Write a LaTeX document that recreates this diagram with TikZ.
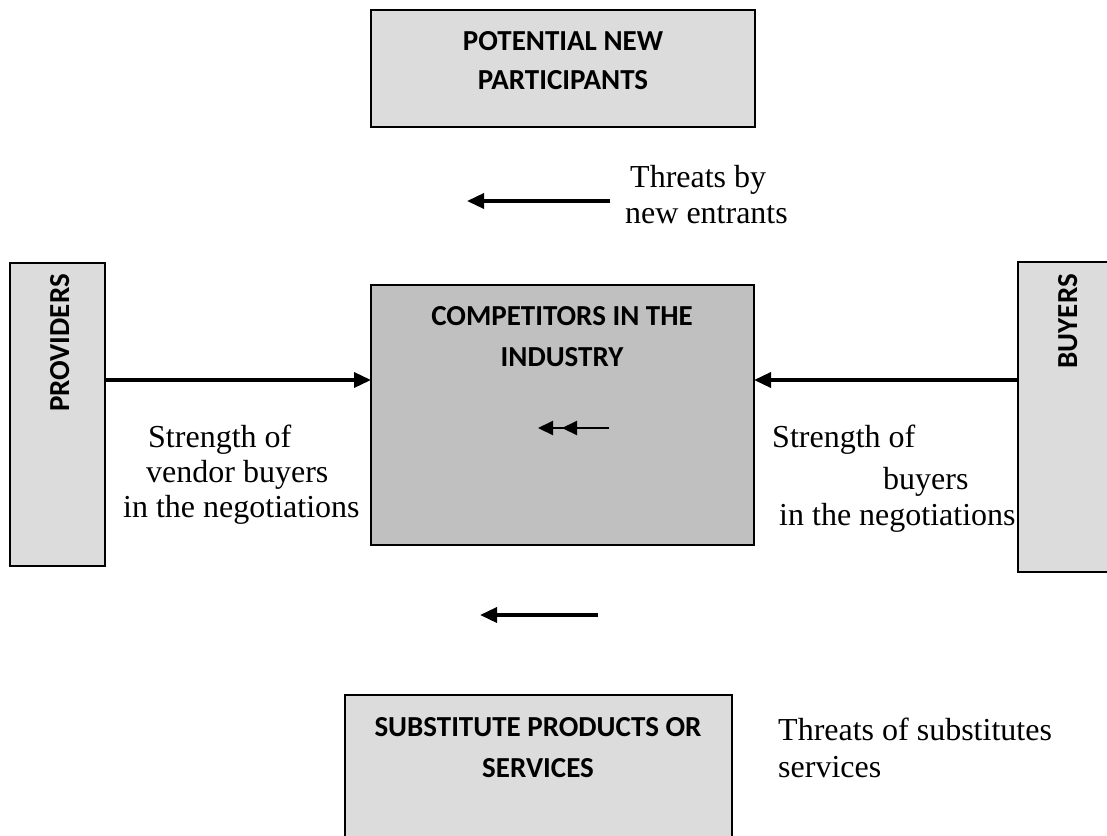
\documentclass[tikz,border=0pt]{standalone}
\usepackage{fontspec}
\setmainfont{Liberation Serif}
\newfontfamily\boxfont{Carlito}
\usetikzlibrary{arrows.meta}
\definecolor{paleshade}{HTML}{DCDCDC}
\definecolor{midshade}{HTML}{C0C0C0}

\begin{document}
\begin{tikzpicture}[x=1pt,y=-1pt,
  panel/.style={draw=black, line width=2pt, fill=paleshade, inner sep=0pt,
    outer sep=0pt, anchor=north west},
  heading/.style={font=\boxfont\bfseries\fontsize{29}{34}\selectfont,
    inner sep=0pt, anchor=base},
  caption/.style={font=\fontsize{32}{36}\selectfont, inner sep=0pt,
    anchor=base west},
  force/.style={line width=3.5pt, -{Triangle[length=17pt,width=15pt]}},
  rivalry/.style={line width=2.2pt,
    -{Triangle[length=15pt,width=14pt,sep=9pt] Triangle[length=15pt,width=14pt]}}]

\useasboundingbox (0,0) rectangle (1107,835);
\fill[white] (0,0) rectangle (1107,835);

% the five forces
\node[panel, minimum width=384pt, minimum height=117pt] (entrants) at (371,10) {};
\node[panel, minimum width=95pt, minimum height=303pt] (providers) at (10,263) {};
\node[panel, fill=midshade, minimum width=383pt, minimum height=260pt] (industry) at (371,285) {};
\node[panel, minimum width=110pt, minimum height=310pt] (buyers) at (1018,262) {};
\node[panel, minimum width=387pt, minimum height=200pt] (substitutes) at (345,695) {};

% box titles
\node[heading] (tEntA) at (563,50) {POTENTIAL NEW};
\node[heading] (tEntB) at (563,89) {PARTICIPANTS};
\node[heading] (tIndA) at (562,325) {COMPETITORS IN THE};
\node[heading] (tIndB) at (562,366) {INDUSTRY};
\node[heading] (tSubA) at (538,736) {SUBSTITUTE PRODUCTS OR};
\node[heading] (tSubB) at (538,777) {SERVICES};
\node[heading, rotate=90, anchor=base east] (tProv) at (69,274) {PROVIDERS};
\node[heading, rotate=90, anchor=base east] (tBuy) at (1077,274) {BUYERS};

% bargaining power arrows
\coordinate (level) at (0,380);
\draw[force] (providers.east |- level) -- (industry.west |- level);
\draw[force] (buyers.west |- level) -- (industry.east |- level);

% threat arrows
\coordinate (entTail) at (610,201);
\coordinate (entTip) at (467,201);
\draw[force] (entTail) -- (entTip);
\coordinate (subTail) at (598,615);
\coordinate (subTip) at (480,615);
\draw[force] (subTail) -- (subTip);

% rivalry among competitors
\coordinate (rivTail) at (609,428);
\coordinate (rivTip) at (538,428);
\draw[rivalry] (rivTail) -- (rivTip);

% labels
\node[caption] (lEntA) at (630,187) {Threats by};
\node[caption] (lEntB) at (625,223) {new entrants};
\node[caption] (lProvA) at (148,447) {Strength of};
\node[caption] (lProvB) at (146,482) {vendor buyers};
\node[caption] (lProvC) at (123,517) {in the negotiations};
\node[caption] (lBuyA) at (772,447) {Strength of};
\node[caption] (lBuyB) at (883,489) {buyers};
\node[caption] (lBuyC) at (779,525) {in the negotiations};
\node[caption] (lSubA) at (778,740) {Threats of substitutes};
\node[caption] (lSubB) at (778,777) {services};
\end{tikzpicture}
\end{document}
